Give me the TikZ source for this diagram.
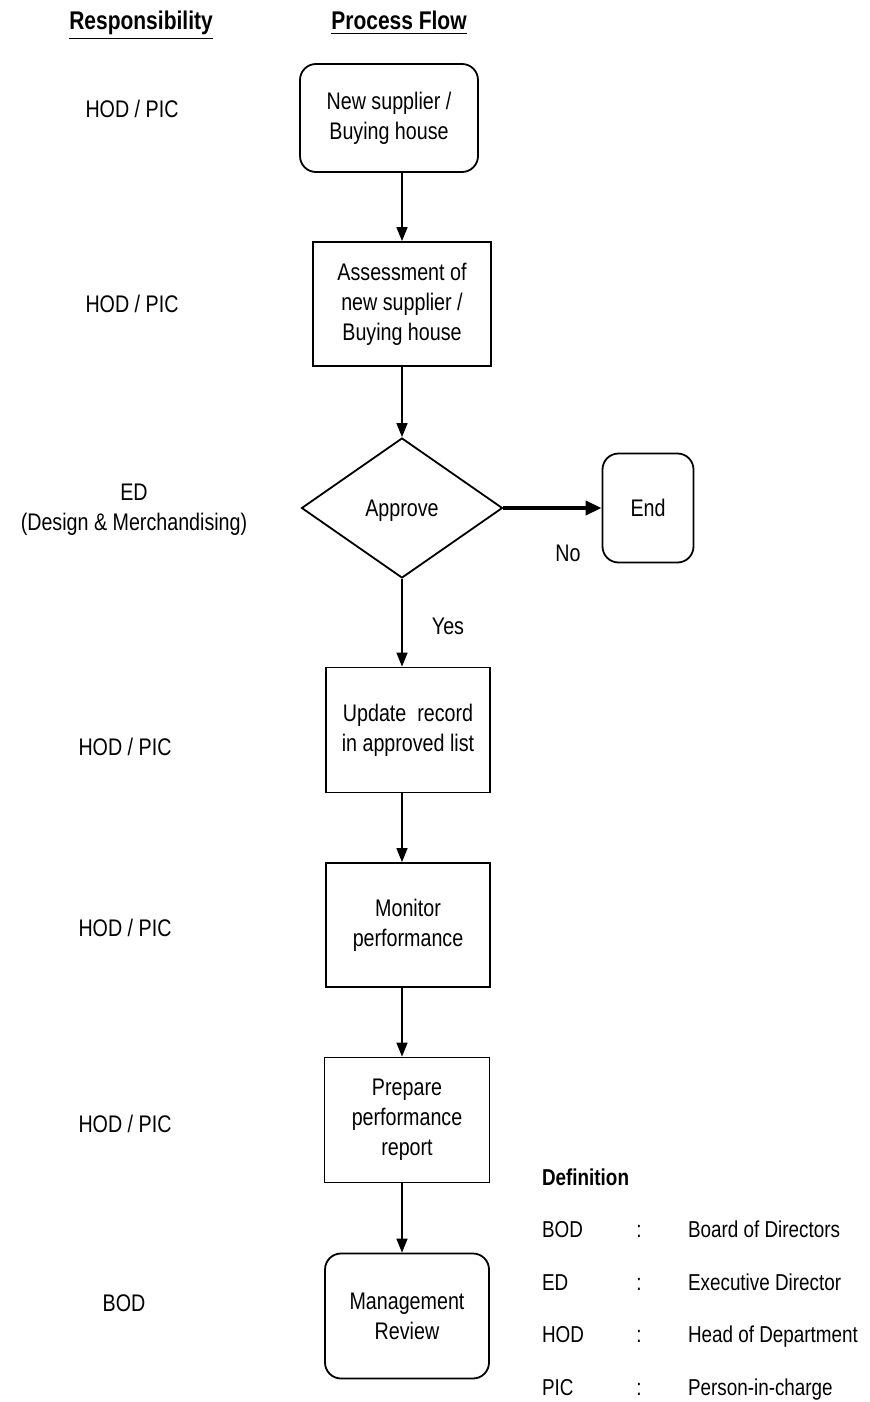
\documentclass[tikz,border=0pt]{standalone}
\usepackage{fontspec}
\setmainfont{Liberation Sans}[FakeStretch=0.82]
\usetikzlibrary{arrows.meta,shapes.geometric}

\tikzset{
  flowbox/.style={draw,line width=0.9pt,align=center,inner sep=2pt},
  stepbox/.style={flowbox,rectangle},
  termbox/.style={flowbox,rectangle,rounded corners=8pt},
  decbox/.style={flowbox,diamond,aspect=1.436,inner sep=0pt,minimum width=100.5pt,minimum height=70pt},
  capline/.style={text height=8.6pt,text depth=0pt},
  flowarr/.style={-{Triangle[length=7pt,width=5.5pt]},line width=0.8pt},
  resp/.style={align=center},
  deftext/.style={font=\fontsize{11.5}{14}\selectfont,text height=8.2pt,text depth=0pt},
}

\begin{document}
\begin{tikzpicture}[x=0.5pt,y=-0.5pt,font=\fontsize{12}{15}\selectfont]
\useasboundingbox (0,0) rectangle (870,1402);
\coordinate (spine) at (402,0);

% headings
\node[anchor=base] (hresp) at (141,30) {\fontsize{12.8}{15}\selectfont\bfseries\underline{Responsibility}};
\node[anchor=base] (hflow) at (399,30) {\fontsize{12.8}{15}\selectfont\bfseries\underline{Process Flow}};

% process flow
\node[termbox,minimum width=89pt,minimum height=54pt] (newsup) at (389,118) {New supplier /\\Buying house};
\node[stepbox,minimum width=89pt,minimum height=62pt] (assess) at (402,304) {Assessment of\\new supplier /\\Buying house};
\node[decbox,capline] (approve) at (402,508) {Approve};
\node[termbox,capline,minimum width=45.5pt,minimum height=54.5pt] (endbox) at (648,508) {End};
\node[stepbox,minimum width=82pt,minimum height=62.5pt] (update) at (408,730) {Update\ \ record\\in approved list};
\node[stepbox,minimum width=82pt,minimum height=62pt] (monitor) at (408,925) {Monitor\\performance};
\node[stepbox,minimum width=82.5pt,minimum height=62.5pt] (prepare) at (407,1120) {Prepare\\performance\\report};
\node[termbox,minimum width=82pt,minimum height=62.5pt] (review) at (407,1316) {Management\\Review};

\draw[flowarr] (newsup.south -| spine) -- (assess.north -| spine);
\draw[flowarr] (assess.south -| spine) -- (approve.north);
\draw[-{Triangle[length=8pt,width=7pt]},line width=1.8pt] (approve.east) -- (endbox.west);
\draw[flowarr] (approve.south) -- (update.north -| spine);
\draw[flowarr] (update.south -| spine) -- (monitor.north -| spine);
\draw[flowarr] (monitor.south -| spine) -- (prepare.north -| spine);
\draw[flowarr] (prepare.south -| spine) -- (review.north -| spine);

\node[capline] (yes) at (448,626) {Yes};
\node[capline] (no) at (568,553) {No};

% responsibility column
\node[resp,capline] (r1) at (132,109) {HOD / PIC};
\node[resp,capline] (r2) at (132,304) {HOD / PIC};
\node[resp] (r3) at (134,510) {ED\\(Design \& Merchandising)};
\node[resp,capline] (r4) at (125,747) {HOD / PIC};
\node[resp,capline] (r5) at (125,928) {HOD / PIC};
\node[resp,capline] (r6) at (125,1124) {HOD / PIC};
\node[resp,capline] (r7) at (124,1303) {BOD};

% definitions
\node[anchor=west,deftext,font=\fontsize{11.5}{14}\selectfont\bfseries] (defhead) at (535,1177) {Definition};
\foreach \abbr/\desc [count=\i] in {BOD/Board of Directors,ED/Executive Director,HOD/Head of Department,PIC/Person-in-charge}{
  \node[anchor=west,deftext] (abbr\i) at (535,1177+52.5*\i) {\abbr};
  \node[deftext] (colon\i) at (639,1177+52.5*\i) {:};
  \node[anchor=west,deftext] (desc\i) at (681,1177+52.5*\i) {\desc};
}
\end{tikzpicture}
\end{document}
